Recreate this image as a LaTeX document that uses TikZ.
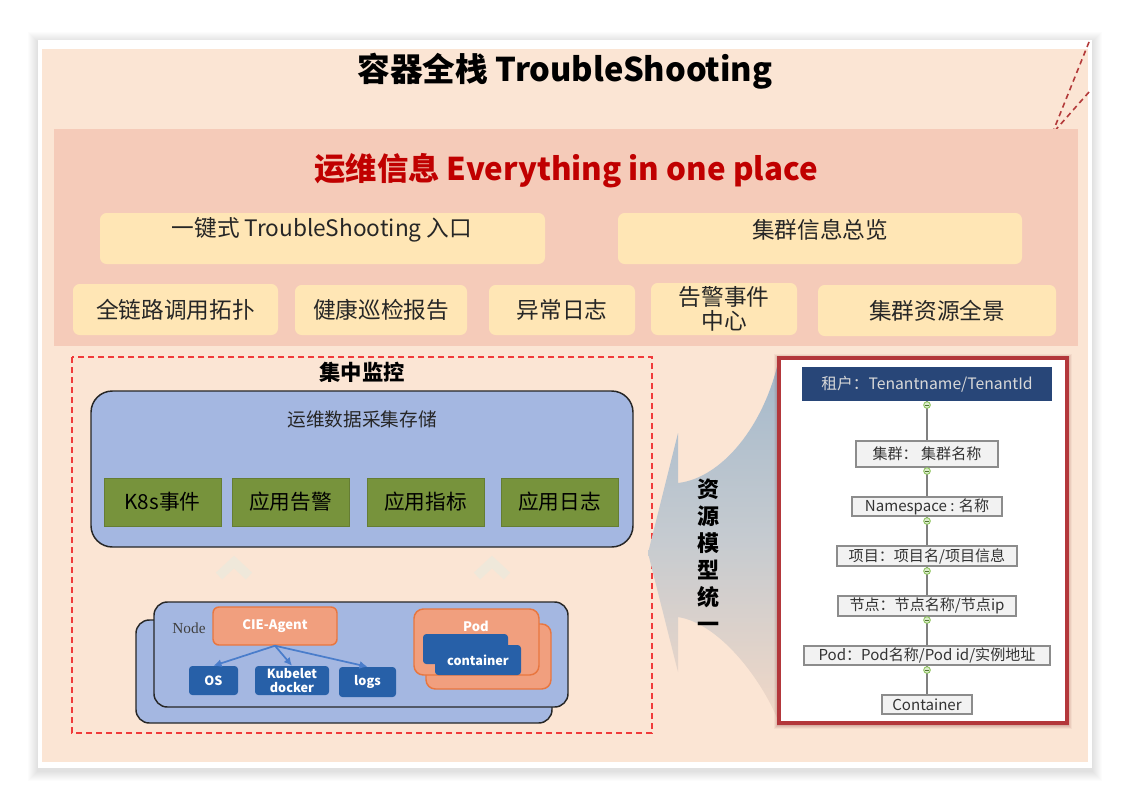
\documentclass[tikz,border=0pt]{standalone}
\usepackage{fontspec}
\setmainfont{Noto Sans CJK SC}
\newfontfamily\nodeserif{Liberation Serif}
\usetikzlibrary{arrows.meta}
\definecolor{peach}{HTML}{FBE5D4}
\definecolor{pinkband}{HTML}{F5CBB9}
\definecolor{ybox}{HTML}{FFE6B5}
\definecolor{redtxt}{HTML}{C00000}
\definecolor{lblue}{HTML}{A4B7E1}
\definecolor{ggreen}{HTML}{77933C}
\definecolor{salmon}{HTML}{F19F7E}
\definecolor{orangeb}{HTML}{E8763F}
\definecolor{dblue}{HTML}{2760A8}
\definecolor{navy}{HTML}{284678}
\definecolor{arrblue}{HTML}{4A7DCB}
\definecolor{frame}{HTML}{B3373B}
\definecolor{chev}{HTML}{EFE8DA}
\definecolor{lgbox}{HTML}{F2F2F2}
\definecolor{mgreen}{HTML}{86C152}
\definecolor{dashred}{HTML}{F03A3A}
\definecolor{cornerred}{HTML}{B33A3A}
\definecolor{arrtop}{HTML}{A3B8CB}
\definecolor{arrmid}{HTML}{C6CBD0}
\definecolor{arrbot}{HTML}{F2D8C6}
\newcommand\bx[7]{\node[inner sep=0pt, minimum width={(#5-#3)*0.75pt},
  minimum height={(#6-#4)*0.75pt}, #1] (#2) at ({(#3+#5)/2},{(#4+#6)/2}) {#7};}
\begin{document}
\begin{tikzpicture}[x=0.75pt,y=-0.75pt,
  ybx/.style={fill=ybox, rounded corners=5pt, align=center, text=black!85,
    font=\fontsize{17}{19}\selectfont},
  gbx/.style={fill=ggreen, draw=ggreen!85!black, line width=0.4pt, text=black,
    font=\fontsize{15.5}{18}\selectfont},
  bluepanel/.style={fill=lblue, draw=black!85, line width=1.1pt},
  salbx/.style={fill=salmon, draw=orangeb, line width=1.1pt, rounded corners=4.5pt},
  dbbx/.style={fill=dblue, rounded corners=2.5pt, text=white, align=center,
    font=\bfseries\fontsize{9.5}{10.5}\selectfont},
  graybx/.style={fill=lgbox, draw=black!45, line width=0.8pt, text=black!80,
    font=\fontsize{11.3}{13}\selectfont},
  agarrow/.style={draw=arrblue, line width=1.3pt, -{Latex[length=6pt,width=6pt]}},
  linkline/.style={draw=black!50, line width=0.9pt},
  mcirc/.style={circle, draw=mgreen, fill=mgreen!30, line width=0.6pt,
    minimum size=5pt, inner sep=0pt},
  chevron/.style={draw=chev, line width=7pt},
]
\useasboundingbox (0,0) rectangle (1130,804);
\fill[white] (0,0) rectangle (1130,804);
% card shadow
\foreach \i in {1,...,10}{
  \fill[black, opacity=0.010] (38-\i,40-\i+2) rectangle (1092+\i,768+\i+3);
}
\fill[white] (38,40) rectangle (1092,768);
% peach panel
\fill[peach] (42,49) rectangle (1088,762);
\node[font=\bfseries\fontsize{24.5}{28}\selectfont] (title) at (565,71) {容器全栈 TroubleShooting};
% corner dashed lines
\coordinate (dA) at (1089,42);
\coordinate (dB) at (1089,92);
\coordinate (dC) at (1052,134);
\draw[cornerred, line width=1.2pt, dash pattern=on 4pt off 3pt] (dA) -- (dC);
\draw[cornerred, line width=1.2pt, dash pattern=on 4pt off 3pt] (dB) -- (dC);
% pink band
\fill[pinkband] (54,129) rectangle (1078,346);
\node[font=\bfseries\fontsize{23.5}{28}\selectfont, text=redtxt] (sub) at (566,171) {运维信息 Everything in one place};
\bx{ybx}{entry}{100}{213}{545}{264}{}
\node[font=\fontsize{17}{19}\selectfont, text=black!85] (entrytxt) at (322,230) {一键式 TroubleShooting 入口};
\bx{ybx}{overview}{618}{213}{1022}{264}{}
\node[font=\fontsize{17}{19}\selectfont, text=black!85] (overviewtxt) at (820,230) {集群信息总览};
\bx{ybx}{topo}{73}{284}{278}{335}{全链路调用拓扑}
\bx{ybx}{health}{295}{285}{467}{335}{健康巡检报告}
\bx{ybx}{errlog}{489}{285}{635}{335}{异常日志}
\bx{ybx}{alarm}{651}{283}{797}{335}{告警事件\\[-1pt]中心}
\bx{ybx}{resall}{818}{285}{1056}{336}{集群资源全景}
% left monitoring area
\draw[dashred, line width=1.2pt, dash pattern=on 4.5pt off 3pt] (72,357) rectangle (652,733);
\node[font=\bfseries\fontsize{16}{18}\selectfont] (mon) at (362,372) {集中监控};
\bx{bluepanel, rounded corners=16pt}{store}{91}{391}{633}{547}{}
\node[font=\fontsize{14}{16}\selectfont, text=black!85] (storetxt) at (362,419) {运维数据采集存储};
\bx{gbx}{k8s}{104}{478}{221}{526}{K8s事件}
\bx{gbx}{appalarm}{232}{478}{349}{526}{应用告警}
\bx{gbx}{appmetric}{367}{478}{484}{526}{应用指标}
\bx{gbx}{applog}{501}{478}{618}{526}{应用日志}
% faint chevrons
\draw[chevron] (219,576) -- (234,562) -- (249,576);
\draw[chevron] (477,576) -- (492,562) -- (507,576);
% node boxes
\bx{bluepanel, rounded corners=10pt}{nodeback}{136}{620}{552}{723}{}
\bx{bluepanel, rounded corners=10pt}{nodefront}{154}{602}{568}{707}{}
\node[font=\nodeserif\fontsize{11.5}{13}\selectfont, text=black!75] (nodelbl) at (189,628) {Node};
\bx{salbx}{agent}{213}{607}{337}{645}{}
\node[font=\bfseries\fontsize{9.8}{11}\selectfont, text=white] (agenttxt) at (275,626) {CIE-Agent};
\bx{dbbx}{os}{189}{666}{238}{695}{OS}
\bx{dbbx}{kub}{255}{666}{329}{695}{Kubelet\\docker}
\bx{dbbx}{logs}{339}{667}{396}{697}{logs}
\draw[agarrow] (agent.south) -- (os.north);
\draw[agarrow] (agent.south) -- (kub.north);
\draw[agarrow] (agent.south) -- (logs.north);
\bx{salbx, rounded corners=7pt}{podback}{426}{624}{551}{689}{}
\bx{salbx, rounded corners=7pt}{podfront}{414}{609}{539}{675}{}
\node[font=\bfseries\fontsize{9.8}{11}\selectfont, text=white] (podtxt) at (476,626) {Pod};
\bx{dbbx}{contback}{423}{634}{508}{664}{}
\bx{dbbx}{contfront}{435}{645}{521}{675}{container}
% big arrow
\path[top color=arrtop, bottom color=arrbot, middle color=arrmid]
  (648,553) -- (678,433) -- (678,483)
  .. controls (722,478) and (765,425) .. (779,358)
  -- (779,723)
  .. controls (765,685) and (722,624) .. (678,617)
  -- (678,672) -- cycle;
\node[font=\bfseries\fontsize{16.5}{20.3}\selectfont, align=center] (vt) at (708,556) {资\\源\\模\\型\\统\\一};
% right frame
\foreach \i/\o in {1/0.18,2/0.12,3/0.08,4/0.05}{
  \draw[frame!70!black, opacity=\o, line width=1pt] (779-\i,358-\i+1) rectangle (1067+\i,723+\i+1);
}
\bx{fill=white, draw=frame, line width=2.8pt}{rframe}{779}{358}{1067}{723}{}
\bx{fill=navy, text=white!85!black, font=\fontsize{11.8}{13}\selectfont}{tenant}{802}{367}{1052}{401}{租户：Tenantname/TenantId}
\bx{graybx}{cluster}{856}{441}{998}{467}{集群：\ 集群名称}
\bx{graybx}{ns}{852}{497}{1002}{516}{Namespace : 名称}
\bx{graybx}{proj}{837}{546}{1017}{566}{项目：项目名/项目信息}
\bx{graybx}{nd}{838}{596}{1016}{616}{节点：节点名称/节点ip}
\bx{graybx}{pd}{804}{646}{1050}{665}{Pod：Pod名称/Pod id/实例地址}
\bx{graybx}{ct}{882}{695}{972}{714}{Container}
\draw[linkline] (tenant.south) -- (cluster.north);
\draw[linkline] (cluster.south) -- (ns.north);
\draw[linkline] (ns.south) -- (proj.north);
\draw[linkline] (proj.south) -- (nd.north);
\draw[linkline] (nd.south) -- (pd.north);
\draw[linkline] (pd.south) -- (ct.north);
\foreach \n/\yy in {m1/405,m2/471,m3/521,m4/571,m5/620,m6/670}{
  \node[mcirc] (\n) at (927,\yy) {};
  \draw[mgreen!60!black, line width=0.5pt] ([xshift=-1.6pt]\n.center) -- ([xshift=1.6pt]\n.center);
}
\end{tikzpicture}
\end{document}
